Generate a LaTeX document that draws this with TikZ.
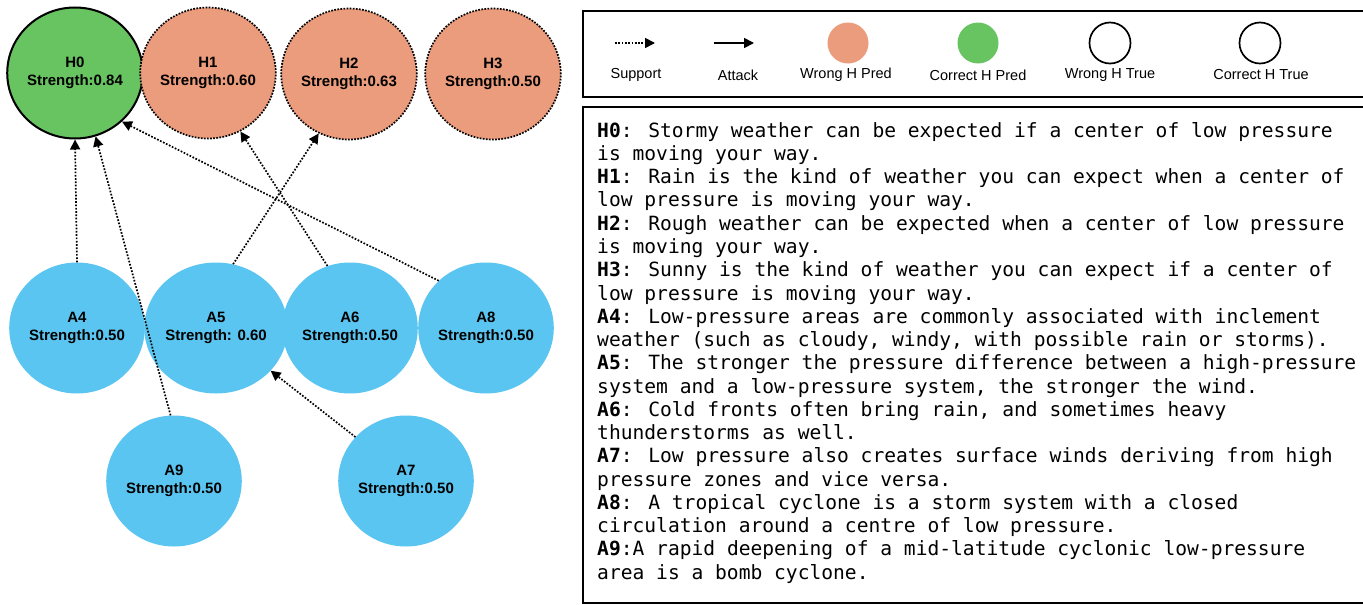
\documentclass[tikz,border=0pt]{standalone}
\usepackage{fontspec}
\setsansfont{Liberation Sans}
\newfontfamily\descfont{DejaVu Sans Mono}
\usetikzlibrary{positioning,arrows.meta,shapes.geometric}
\definecolor{predgreen}{RGB}{104,195,97}
\definecolor{predred}{RGB}{234,156,124}
\definecolor{argblue}{RGB}{90,197,240}
\tikzset{
arg/.style={ellipse, fill=argblue, minimum width=128pt, minimum height=131pt, inner sep=0pt, align=center, font=\sffamily\bfseries\fontsize{15}{18}\selectfont},
hyp right/.style={arg, fill=predgreen, draw=black, line width=2pt},
hyp wrong/.style={arg, fill=predred, draw=black, line width=1.7pt, dash pattern=on 1.7pt off 1.4pt},
support/.style={line width=1.7pt, dash pattern=on 1.7pt off 1.6pt, -{Triangle[length=10pt,width=10pt]}},
attack/.style={line width=1.7pt, -{Triangle[length=10pt,width=10pt]}},
legend dot/.style={circle, minimum size=41pt, inner sep=0pt},
legend label/.style={font=\sffamily\fontsize{14.5}{17}\selectfont},
desc/.style={font=\descfont\fontsize{19.6}{23.26}\selectfont, align=left, inner sep=0pt}
}
\begin{document}
\begin{tikzpicture}[x=1pt,y=-1pt]
\useasboundingbox (0,0) rectangle (1363,605);

\node[hyp right] (H0) at (75,73) {H0\\Strength:0.84};
\node[hyp wrong] (H1) at (208,73) {H1\\Strength:0.60};
\node[hyp wrong] (H2) at (349,74) {H2\\Strength:0.63};
\node[hyp wrong] (H3) at (493,74) {H3\\Strength:0.50};

\node[arg] (A4) at (77,328) {A4\\Strength:0.50};
\node[arg] (A5) at (216,328) {A5\\Strength: 0.60};
\node[arg] (A6) at (350,328) {A6\\Strength:0.50};
\node[arg] (A8) at (486,328) {A8\\Strength:0.50};
\node[arg] (A9) at (174,481) {A9\\Strength:0.50};
\node[arg] (A7) at (406,481) {A7\\Strength:0.50};

\draw[support] (A4.north) -- (H0.south);
\draw[support] (A9.93) -- (H0.-72);
\draw[support] (A8.135) -- (H0.-46);
\draw[support] (A6.110) -- (H1.-61);
\draw[support] (A5.75) -- (H2.-117);
\draw[support] (A7.139) -- (A5.-38);

% legend
\draw[line width=1.8pt] (583,11) rectangle (1367,97);
\coordinate (sup a) at (615,43);
\coordinate (sup b) at (655,43);
\coordinate (att a) at (714,43);
\coordinate (att b) at (754,43);
\draw[support] (sup a) -- (sup b);
\draw[attack] (att a) -- (att b);
\node[legend dot, fill=predred] (wrong pred) at (848,43) {};
\node[legend dot, fill=predgreen] (right pred) at (978,43) {};
\node[legend dot, draw=black, line width=1.7pt] (wrong true) at (1110,43) {};
\node[legend dot, draw=black, line width=1.7pt] (right true) at (1260,43) {};
\node[legend label] at (636,75) {Support};
\node[legend label] at (738,75) {Attack};
\node[legend label] at (846,75) {Wrong H Pred};
\node[legend label] at (978,75) {Correct H Pred};
\node[legend label] at (1110,75) {Wrong H True};
\node[legend label] at (1261,75) {Correct H True};

% descriptions
\draw[line width=1.5pt] (583,107) rectangle (1367,603);
\node[desc, anchor=north west] (desc) at (597,122) {%
\textbf{H0}: Stormy weather can be expected if a center of low pressure\\
is moving your way.\\
\textbf{H1}: Rain is the kind of weather you can expect when a center of\\
low pressure is moving your way.\\
\textbf{H2}: Rough weather can be expected when a center of low pressure\\
is moving your way.\\
\textbf{H3}: Sunny is the kind of weather you can expect if a center of\\
low pressure is moving your way.\\
\textbf{A4}: Low-pressure areas are commonly associated with inclement\\
weather (such as cloudy, windy, with possible rain or storms).\\
\textbf{A5}: The stronger the pressure difference between a high-pressure\\
system and a low-pressure system, the stronger the wind.\\
\textbf{A6}: Cold fronts often bring rain, and sometimes heavy\\
thunderstorms as well.\\
\textbf{A7}: Low pressure also creates surface winds deriving from high\\
pressure zones and vice versa.\\
\textbf{A8}: A tropical cyclone is a storm system with a closed\\
circulation around a centre of low pressure.\\
\textbf{A9}:A rapid deepening of a mid-latitude cyclonic low-pressure\\
area is a bomb cyclone.};
\end{tikzpicture}
\end{document}
